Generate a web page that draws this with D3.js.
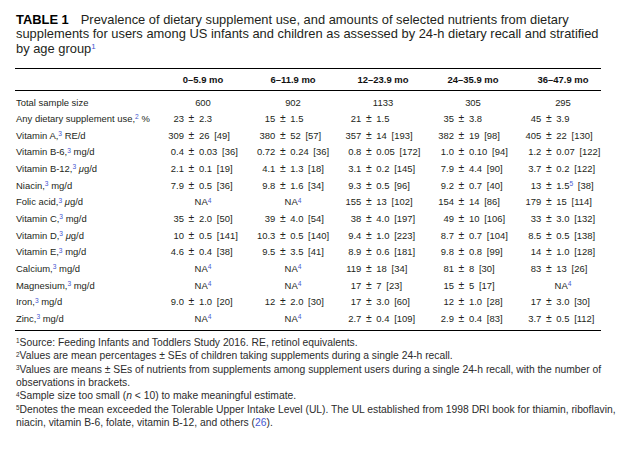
<!DOCTYPE html>
<html><head><meta charset="utf-8">
<script src="https://cdn.jsdelivr.net/npm/d3@7"></script>
<style>body{margin:0;background:#fff} text{white-space:pre}</style>
</head><body><svg id="c" width="644" height="454"></svg>
<script>
// ---------- data ----------
const titleLead = "TABLE 1";
const titleLines = [
  "Prevalence of dietary supplement use, and amounts of selected nutrients from dietary",
  "supplements for users among US infants and children as assessed by 24-h dietary recall and stratified",
  "by age group{1}"
];
const ageGroups = ["0–5.9 mo", "6–11.9 mo", "12–23.9 mo", "24–35.9 mo", "36–47.9 mo"];
const rowLabels = [
  "Total sample size",
  "Any dietary supplement use,{2} %",
  "Vitamin A,{3} RE/d",
  "Vitamin B-6,{3} mg/d",
  "Vitamin B-12,{3} *μ*g/d",
  "Niacin,{3} mg/d",
  "Folic acid,{3} *μ*g/d",
  "Vitamin C,{3} mg/d",
  "Vitamin D,{3} *μ*g/d",
  "Vitamin E,{3} mg/d",
  "Calcium,{3} mg/d",
  "Magnesium,{3} mg/d",
  "Iron,{3} mg/d",
  "Zinc,{3} mg/d"
];
const sampleSize    = ["600", "902", "1133", "305", "295"];
const supplementUse = ["23 ± 2.3", "15 ± 1.5", "21 ± 1.5", "35 ± 3.8", "45 ± 3.9"];
const vitaminA   = ["309 ± 26 [49]", "380 ± 52 [57]", "357 ± 14 [193]", "382 ± 19 [98]", "405 ± 22 [130]"];
const vitaminB6  = ["0.4 ± 0.03 [36]", "0.72 ± 0.24 [36]", "0.8 ± 0.05 [172]", "1.0 ± 0.10 [94]", "1.2 ± 0.07 [122]"];
const vitaminB12 = ["2.1 ± 0.1 [19]", "4.1 ± 1.3 [18]", "3.1 ± 0.2 [145]", "7.9 ± 4.4 [90]", "3.7 ± 0.2 [122]"];
const niacin     = ["7.9 ± 0.5 [36]", "9.8 ± 1.6 [34]", "9.3 ± 0.5 [96]", "9.2 ± 0.7 [40]", "13 ± 1.5{5} [38]"];
const folicAcid  = ["NA{4}", "NA{4}", "155 ± 13 [102]", "154 ± 14 [86]", "179 ± 15 [114]"];
const vitaminC   = ["35 ± 2.0 [50]", "39 ± 4.0 [54]", "38 ± 4.0 [197]", "49 ± 10 [106]", "33 ± 3.0 [132]"];
const vitaminD   = ["10 ± 0.5 [141]", "10.3 ± 0.5 [140]", "9.4 ± 1.0 [223]", "8.7 ± 0.7 [104]", "8.5 ± 0.5 [138]"];
const vitaminE   = ["4.6 ± 0.4 [38]", "9.5 ± 3.5 [41]", "8.9 ± 0.6 [181]", "9.8 ± 0.8 [99]", "14 ± 1.0 [128]"];
const calcium    = ["NA{4}", "NA{4}", "119 ± 18 [34]", "81 ± 8 [30]", "83 ± 13 [26]"];
const magnesium  = ["NA{4}", "NA{4}", "17 ± 7 [23]", "15 ± 5 [17]", "NA{4}"];
const iron       = ["9.0 ± 1.0 [20]", "12 ± 2.0 [30]", "17 ± 3.0 [60]", "12 ± 1.0 [28]", "17 ± 3.0 [30]"];
const zinc       = ["NA{4}", "NA{4}", "2.7 ± 0.4 [109]", "2.9 ± 0.4 [83]", "3.7 ± 0.5 [112]"];
const footnotes = [
  "<1>Source: Feeding Infants and Toddlers Study 2016. RE, retinol equivalents.",
  "<2>Values are mean percentages ± SEs of children taking supplements during a single 24-h recall.",
  "<3>Values are means ± SEs of nutrients from supplements among supplement users during a single 24-h recall, with the number of",
  "observations in brackets.",
  "<4>Sample size too small (*n* < 10) to make meaningful estimate.",
  "<5>Denotes the mean exceeded the Tolerable Upper Intake Level (UL). The UL established from 1998 DRI book for thiamin, riboflavin,",
  "niacin, vitamin B-6, folate, vitamin B-12, and others (~26~)."
];
const rowValues = [sampleSize, supplementUse, vitaminA, vitaminB6, vitaminB12, niacin, folicAcid,
  vitaminC, vitaminD, vitaminE, calcium, magnesium, iron, zinc];

// ---------- style ----------
const BLUE = "#4557d0";
const INK = "#231f20";
const bodyFont = "'Liberation Sans', Arial, sans-serif";
const titleFont = "'Liberation Sans', Arial, sans-serif";
const noteFont = "'Liberation Sans', Arial, sans-serif";

const svg = d3.select("#c");
svg.append("rect").attr("width", 644).attr("height", 454).attr("fill", "#fff");

function rich(sel, str, supEm) {
  supEm = supEm || 0.62;
  const parts = str.split(/(\{[^}]*\}|<[^>]*>|\*[^*]*\*|~[^~]*~)/).filter(s => s !== "");
  let raised = false;
  parts.forEach(p => {
    const t = sel.append("tspan");
    if (p[0] === "{" || p[0] === "<") {
      t.text(p.slice(1, -1)).attr("font-size", supEm + "em").attr("dy", "-0.42em");
      if (p[0] === "{") t.attr("fill", BLUE);
      raised = true;
    } else {
      if (raised) { t.attr("dy", (0.42 * supEm).toFixed(3) + "em"); raised = false; }
      if (p[0] === "*") t.text(p.slice(1, -1)).attr("font-style", "italic");
      else if (p[0] === "~") t.text(p.slice(1, -1)).attr("fill", BLUE);
      else t.text(p);
    }
  });
  return sel;
}
function fit(sel, base, target) {
  sel.attr("font-size", base);
  const w = sel.node().getComputedTextLength();
  return base * target / w;
}

// ---------- title ----------
const gTitle = svg.append("g").attr("fill", INK).attr("font-family", titleFont);
const tl = gTitle.selectAll("text.tl").data(titleLines).join("text").attr("class", "tl")
  .attr("x", 16).attr("y", (d, i) => 24 + i * 14.3)
  .each(function (d) { rich(d3.select(this), d); });
const titleSize = fit(tl.filter((d, i) => i === 1), 12, 583);
tl.attr("font-size", titleSize);
const lead = gTitle.append("text").attr("x", 16).attr("y", 24).attr("font-weight", "bold")
  .attr("font-size", titleSize).attr("fill", "#000").text(titleLead);
const leadW = lead.node().getComputedTextLength();
tl.filter((d, i) => i === 0).attr("x", 16 + leadW + 12);

// ---------- table ----------
const x = d3.scaleBand().domain(ageGroups).range([158, 608]);
const cx = g => x(g) + x.bandwidth() / 2;
const y = d3.scalePoint().domain(d3.range(rowLabels.length)).range([105.5, 322]);
const ruleX = [15, 601];
const SUP = 0.7;

const gT = svg.append("g").attr("font-family", bodyFont).attr("fill", INK);
const probe = rich(gT.append("text"), rowLabels[1], SUP);
const bodySize = Math.min(10.5, fit(probe, 10, 134));
probe.remove();
gT.attr("font-size", bodySize);

[68.5, 90.5, 330.5].forEach(yy => svg.append("line").attr("x1", ruleX[0]).attr("x2", ruleX[1])
  .attr("y1", yy).attr("y2", yy).attr("stroke", "#000").attr("stroke-width", 1));

gT.selectAll("text.hd").data(ageGroups).join("text").attr("class", "hd")
  .attr("x", cx).attr("y", 83).attr("text-anchor", "middle").attr("font-weight", "bold")
  .attr("fill", "#111").text(d => d);

gT.selectAll("text.lb").data(rowLabels).join("text").attr("class", "lb")
  .attr("x", 16).attr("y", (d, i) => y(i))
  .each(function (d) { rich(d3.select(this), d, SUP); });

const GAP = 7.5;
const widen = s => s.replace(" [", "\u2002[");
function measure(str) {
  const t = rich(gT.append("text"), str, SUP);
  const w = t.node().getComputedTextLength();
  t.remove();
  return w;
}
const pmX = ageGroups.map((g, ci) => {
  let maxL = 0, maxR = 0;
  rowValues.forEach(r => {
    const v = r[ci];
    if (v.includes(" ± ")) {
      const [l, rr] = v.split(" ± ");
      maxL = Math.max(maxL, measure(l));
      maxR = Math.max(maxR, measure(widen(rr)));
    }
  });
  const block = maxL + 2 * GAP + maxR;
  return cx(g) - block / 2 + maxL + GAP;
});

rowValues.forEach((r, ri) => {
  r.forEach((v, ci) => {
    const yy = y(ri);
    if (v.includes(" ± ")) {
      const [l, rr] = v.split(" ± ");
      rich(gT.append("text").attr("x", pmX[ci] - GAP).attr("y", yy).attr("text-anchor", "end"), l, SUP);
      gT.append("text").attr("x", pmX[ci]).attr("y", yy).attr("text-anchor", "middle")
        .attr("font-size", "1.1em").text("±");
      rich(gT.append("text").attr("x", pmX[ci] + GAP).attr("y", yy), widen(rr), SUP);
    } else {
      rich(gT.append("text").attr("x", cx(ageGroups[ci])).attr("y", yy).attr("text-anchor", "middle"), v, SUP);
    }
  });
});

// ---------- footnotes ----------
const gN = svg.append("g").attr("font-family", noteFont).attr("fill", "#2b2b2b");
const fn = gN.selectAll("text").data(footnotes).join("text")
  .attr("x", 16).attr("y", (d, i) => 346 + i * 13.35)
  .each(function (d) { rich(d3.select(this), d); });
const noteSize = fit(fn.filter((d, i) => i === 2), 9, 586);
fn.attr("font-size", noteSize);
</script></body></html>
